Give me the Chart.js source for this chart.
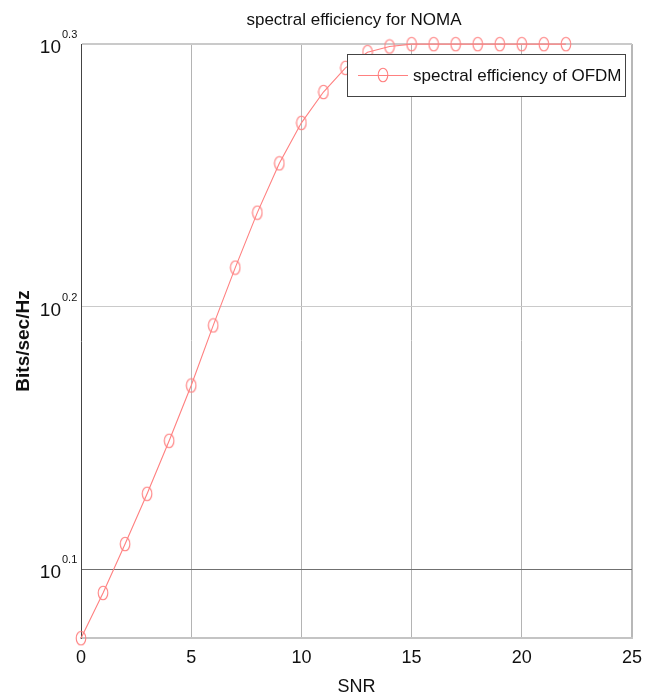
<!DOCTYPE html>
<html>
<head>
<meta charset="utf-8">
<script src="https://cdn.jsdelivr.net/npm/chart.js@4/dist/chart.umd.min.js"></script>
<style>
html, body { margin: 0; padding: 0; background: #fff; }
#wrap { width: 656px; height: 699px; }
</style>
</head>
<body>
<div id="wrap"><canvas id="chart" width="656" height="699"></canvas></div>
<script>
// values
var snr = [0, 1, 2, 3, 4, 5, 6, 7, 8, 9, 10, 11, 12, 13, 14, 15, 16, 17, 18, 19, 20, 21, 22];
var efficiency = [1.185, 1.233, 1.287, 1.345, 1.409, 1.479, 1.559, 1.640, 1.721, 1.797, 1.862,
                  1.913, 1.954, 1.981, 1.991, 1.995, 1.995, 1.995, 1.995, 1.995, 1.995, 1.995, 1.995];
var xTicks = [0, 5, 10, 15, 20, 25];
var yTickExponents = [0.1, 0.2, 0.3];
var yMinExponent = 0.0738;
var chartTitle = "spectral efficiency for NOMA";
var seriesLabel = "spectral efficiency of OFDM";
var xLabel = "SNR";
var yLabel = "Bits/sec/Hz";

var lineColor = "#ff8080";
var sans = "'Liberation Sans', Arial, sans-serif";

function ellipseMarker(color) {
    var c = document.createElement("canvas");
    c.width = 12; c.height = 16;
    var g = c.getContext("2d");
    g.strokeStyle = color;
    g.lineWidth = 1.1;
    g.beginPath();
    g.ellipse(6, 8, 4.8, 6.8, 0, 0, Math.PI * 2);
    g.stroke();
    return c;
}
var marker = ellipseMarker(lineColor);

// title, y tick labels with superscript and the boxed legend
var decor = {
    id: "decor",
    afterDraw: function (chart) {
        var ctx = chart.ctx;
        var y = chart.scales.y;
        ctx.save();
        ctx.fillStyle = "#111";
        ctx.textAlign = "center";
        ctx.textBaseline = "alphabetic";
        ctx.font = "17px " + sans;
        ctx.fillText(chartTitle, 354, 25);

        yTickExponents.forEach(function (e) {
            var py = y.getPixelForValue(Math.pow(10, e));
            ctx.textAlign = "right";
            ctx.font = "19px " + sans;
            ctx.fillText("10", 61, py + 9);
            ctx.textAlign = "left";
            ctx.font = "11px " + sans;
            ctx.fillText(e.toFixed(1), 62, py - 6);
        });

        // legend box
        var bx = 347, by = 54, bw = 278, bh = 42;
        ctx.fillStyle = "#fff";
        ctx.fillRect(bx, by, bw, bh);
        ctx.strokeStyle = "#444";
        ctx.lineWidth = 1;
        ctx.strokeRect(bx + 0.5, by + 0.5, bw, bh);
        var ly = by + 21;
        ctx.strokeStyle = lineColor;
        ctx.beginPath();
        ctx.moveTo(358, ly + 0.5);
        ctx.lineTo(408, ly + 0.5);
        ctx.stroke();
        ctx.drawImage(marker, 383 - 6, ly - 8);
        ctx.fillStyle = "#111";
        ctx.textAlign = "left";
        ctx.textBaseline = "middle";
        ctx.font = "17px " + sans;
        ctx.fillText(seriesLabel, 413, ly + 1);
        ctx.restore();
    }
};

var ctx = document.getElementById("chart").getContext("2d");
new Chart(ctx, {
    type: "line",
    data: {
        datasets: [{
            label: seriesLabel,
            data: snr.map(function (x, i) { return { x: x, y: efficiency[i] }; }),
            borderColor: lineColor,
            backgroundColor: lineColor,
            borderWidth: 1.1,
            pointStyle: marker,
            pointRadius: 6,
            fill: false,
            tension: 0,
            clip: false
        }]
    },
    options: {
        responsive: false,
        animation: false,
        layout: { padding: { top: 44, right: 24, left: 0, bottom: 0 } },
        plugins: {
            legend: { display: false },
            title: { display: false },
            tooltip: { enabled: false }
        },
        scales: {
            x: {
                type: "linear",
                min: 0,
                max: 25,
                afterBuildTicks: function (s) {
                    s.ticks = xTicks.map(function (v) { return { value: v }; });
                },
                afterFit: function (s) { s.height = 61; },
                ticks: {
                    color: "#111",
                    padding: 9,
                    maxRotation: 0,
                    font: { family: sans, size: 18 }
                },
                grid: {
                    drawTicks: false,
                    color: function (c) {
                        if (c.tick.value === 0) return "rgba(0,0,0,0)";
                        if (c.tick.value === 25) return "#b8b8b8";
                        return "#b4b4b4";
                    },
                    lineWidth: function (c) { return c.tick.value === 25 ? 2 : 1; }
                },
                border: { color: "#c4c4c4", width: 2 },
                title: {
                    display: true,
                    text: xLabel,
                    color: "#111",
                    font: { family: sans, size: 18 },
                    padding: { top: 0, bottom: 1 }
                }
            },
            y: {
                type: "logarithmic",
                min: Math.pow(10, yMinExponent),
                max: Math.pow(10, 0.3),
                afterBuildTicks: function (s) {
                    s.ticks = yTickExponents.map(function (e) { return { value: Math.pow(10, e) }; });
                },
                afterFit: function (s) { s.width = 81; },
                ticks: { display: false },
                grid: {
                    drawTicks: false,
                    color: function (c) {
                        return c.index === 0 ? "#707070" : "#cacaca";
                    },
                    lineWidth: function (c) { return c.index === 2 ? 2 : 1; }
                },
                border: { color: "#444", width: 1 },
                title: {
                    display: true,
                    text: yLabel,
                    color: "#111",
                    font: { family: sans, size: 19, weight: "bold" },
                    padding: { top: 12 }
                }
            }
        }
    },
    plugins: [decor]
});
</script>
</body>
</html>
